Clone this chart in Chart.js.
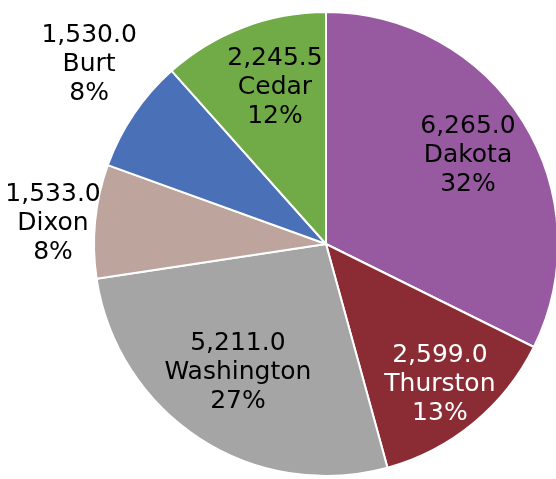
<!DOCTYPE html>
<html>
<head>
<meta charset="utf-8">
<script src="https://cdn.jsdelivr.net/npm/chart.js@4.4.0/dist/chart.umd.min.js"></script>
<style>
  html, body { margin: 0; padding: 0; background: #fff; }
  #wrap { width: 556px; height: 479px; overflow: hidden; position: relative; }
  #mycanvas { position: absolute; left: 0; top: 0; }
</style>
</head>
<body>
<div id="wrap"><canvas id="mycanvas" width="564" height="479"></canvas></div>
<script>
// data, clockwise from 12 o'clock
var counties = ['Dakota', 'Thurston', 'Washington', 'Dixon', 'Burt', 'Cedar'];
var amounts = [6265.0, 2599.0, 5211.0, 1533.0, 1530.0, 2245.5];

var sliceColors = ['#9759A0', '#8B2C34', '#A5A5A5', '#BDA49C', '#4A71B8', '#70AB47'];
var textColors = ['#000', '#fff', '#000', '#000', '#000', '#000'];
// [distance from centre as part of radius, angle nudge in degrees]
var labelSpots = [[0.72, 0], [0.78, 0.5], [0.67, 1.5], [1.18, -1.3], [1.28, 3], [0.71, 2.8]];

var pieLabels = {
	id: 'pieLabels',
	afterDatasetsDraw: function(chart) {
		var ctx = chart.ctx;
		var meta = chart.getDatasetMeta(0);
		var data = chart.data.datasets[0].data;
		var total = data.reduce(function(a, b) { return a + b; }, 0);
		ctx.save();
		ctx.font = '25px "DejaVu Sans"';
		ctx.textAlign = 'center';
		ctx.textBaseline = 'middle';
		meta.data.forEach(function(arc, i) {
			var p = arc.getProps(['x', 'y', 'startAngle', 'endAngle', 'outerRadius'], true);
			var mid = (p.startAngle + p.endAngle) / 2 + labelSpots[i][1] * Math.PI / 180;
			var r = p.outerRadius * labelSpots[i][0];
			var x = p.x + Math.cos(mid) * r;
			var y = p.y + Math.sin(mid) * r;
			var lines = [
				data[i].toLocaleString('en-US', {minimumFractionDigits: 1, maximumFractionDigits: 1}),
				chart.data.labels[i],
				Math.round(data[i] / total * 100) + '%'
			];
			ctx.fillStyle = textColors[i];
			for (var k = 0; k < lines.length; k++) {
				ctx.fillText(lines[k], x, y + (k - 1) * 29);
			}
		});
		ctx.restore();
	}
};

var ctx = document.getElementById('mycanvas');
var pieChart = new Chart(ctx, {
	type: 'pie',
	data: {
		labels: counties,
		datasets: [{
			data: amounts,
			backgroundColor: sliceColors,
			borderColor: '#ffffff',
			borderWidth: 2
		}]
	},
	options: {
		responsive: false,
		animation: false,
		layout: { padding: { left: 93, right: 5, top: 11, bottom: 2 } },
		plugins: {
			legend: { display: false },
			tooltip: { enabled: false }
		}
	},
	plugins: [pieLabels]
});
</script>
</body>
</html>
